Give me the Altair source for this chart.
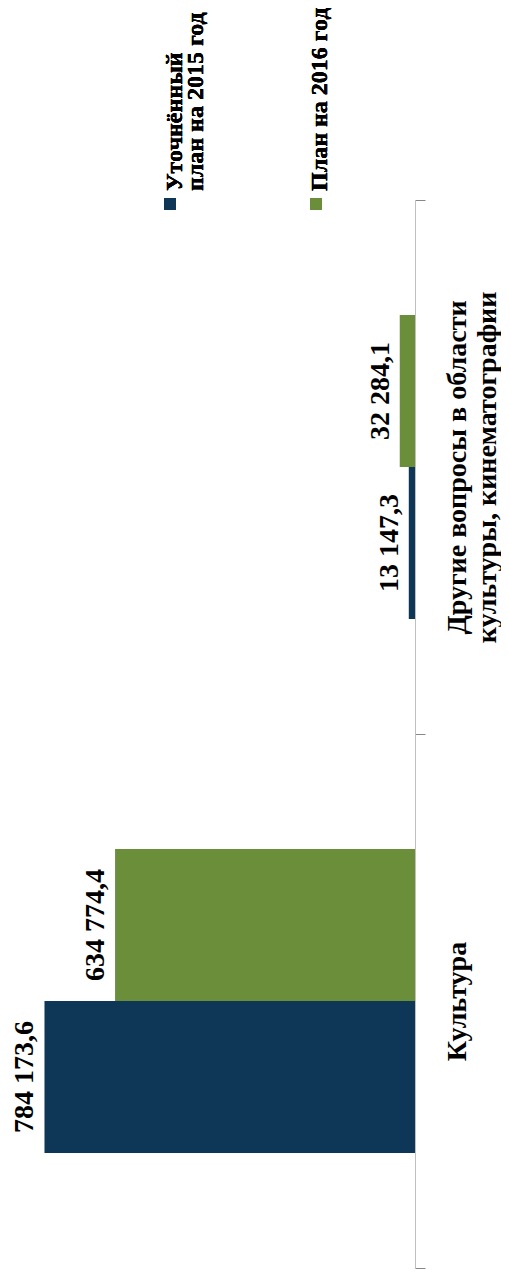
import altair as alt
import pandas as pd

categories = ["Культура", "Другие вопросы в области\nкультуры, кинематографии"]
series = ["Уточнённый план на 2015 год", "План на 2016 год"]
values_2015 = [784173.6, 13147.3]
values_2016 = [634774.4, 32284.1]
series_colors = ["#0E3657", "#6A8E3A"]

FONT = "Liberation Serif"


def fmt(v):
    return f"{v:,.1f}".replace(",", " ").replace(".", ",")


rows = []
for i, c in enumerate(categories):
    rows.append({"category": c, "series": series[0], "value": values_2015[i]})
    rows.append({"category": c, "series": series[1], "value": values_2016[i]})
df = pd.DataFrame(rows)
df["label"] = df["value"].map(fmt)

y_order = [categories[1], categories[0]]
off_order = [series[1], series[0]]

y_enc = alt.Y(
    "category:N",
    sort=y_order,
    scale=alt.Scale(paddingInner=0, paddingOuter=0),
    axis=alt.Axis(
        orient="right",
        title=None,
        labelAngle=270,
        labelAlign="center",
        labelBaseline="top",
        labelFont=FONT,
        labelFontSize=28,
        labelFontWeight="bold",
        labelColor="black",
        labelLineHeight=30,
        labelPadding=18,
        labelLimit=1000,
        labelOverlap=False,
        tickSize=10,
        tickBand="extent",
        domainColor="#BFBFBF",
        tickColor="#878787",
        grid=False,
        labelExpr="split(datum.label, '\\n')",
    ),
)
yoff_enc = alt.YOffset(
    "series:N", sort=off_order, scale=alt.Scale(paddingOuter=0.757, paddingInner=0)
)
x_enc = alt.X(
    "value:Q",
    scale=alt.Scale(domain=[0, 800000], reverse=True, nice=False, zero=True),
    axis=None,
)

base = alt.Chart(df)

bars = base.mark_bar().encode(
    x=x_enc,
    y=y_enc,
    yOffset=yoff_enc,
    color=alt.Color(
        "series:N", scale=alt.Scale(domain=series, range=series_colors), legend=None
    ),
)

labels = base.mark_text(
    angle=270,
    align="center",
    baseline="alphabetic",
    dy=-11,
    font=FONT,
    fontSize=28,
    fontWeight="bold",
    color="black",
).encode(x=x_enc, y=alt.Y("category:N", sort=y_order), yOffset=yoff_enc, text="label:N")

# manual legend (rotated like the chart)
leg_sq1 = alt.Chart(df).mark_square(size=144, color=series_colors[0], opacity=1).encode(
    x=alt.value(133), y=alt.value(4)
)
leg_sq2 = alt.Chart(df).mark_square(size=144, color=series_colors[1], opacity=1).encode(
    x=alt.value(279), y=alt.value(4)
)
leg_tx1 = alt.Chart(df).mark_text(
    angle=270, align="left", baseline="top", font=FONT, fontSize=24,
    fontWeight="bold", color="black", lineHeight=21,
    text=["Уточнённый", "план на 2015 год"],
).encode(x=alt.value(126), y=alt.value(-9))
leg_tx2 = alt.Chart(df).mark_text(
    angle=270, align="left", baseline="top", font=FONT, fontSize=24,
    fontWeight="bold", color="black", text=series[1],
).encode(x=alt.value(271), y=alt.value(-9))

chart = (
    alt.layer(bars, labels, leg_sq1, leg_sq2, leg_tx1, leg_tx2)
    .properties(
        width=378,
        height=1068,
        autosize=alt.AutoSizeParams(type="none"),
        padding={"left": 29, "top": 192, "right": 86, "bottom": 2},
    )
    .configure_view(stroke=None)
)

chart.save("out.html", embed_options={"renderer": "svg", "actions": False})
